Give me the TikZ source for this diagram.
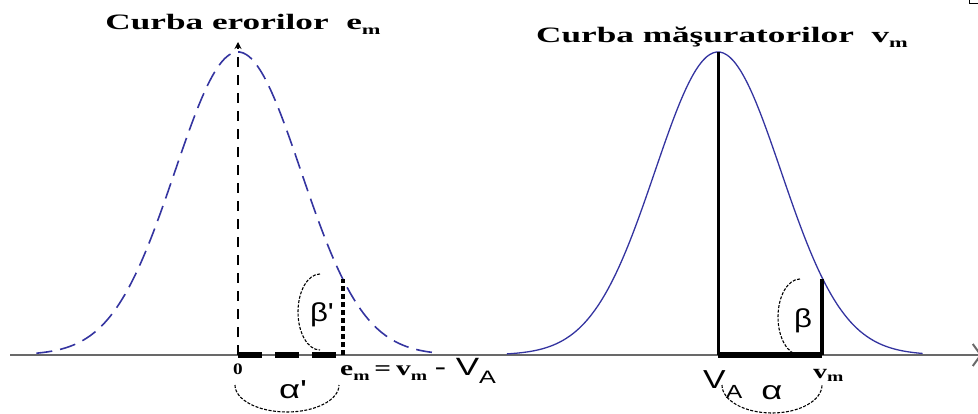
\documentclass[tikz,border=0pt]{standalone}
\usepackage{fontspec}
\setmainfont{Liberation Serif}
\newfontfamily\arial{Liberation Sans}
\usepackage{xcolor}
\definecolor{curveblue}{RGB}{52,52,160}
\definecolor{axisgray}{RGB}{105,105,105}
\usepackage{tikz}
\usetikzlibrary{arrows.meta,calc}
\newcommand{\subm}[2][5pt]{\raisebox{-#1}{\fontsize{14}{14}\selectfont #2}}
\newcommand{\wide}[2][1.35]{\scalebox{#1}[1]{#2}}

\begin{document}
\begin{tikzpicture}[
  x=1pt, y=1pt,
  axis/.style={draw=axisgray, line width=2pt},
  gaussL/.style={draw=curveblue, line width=1.6pt, dash pattern=on 16pt off 8pt},
  gaussR/.style={draw=curveblue, line width=1.3pt},
  arcline/.style={line width=1.1pt, dash pattern=on 3pt off 1.5pt},
  title/.style={anchor=base, inner sep=0pt, font=\bfseries\fontsize{22}{22}\selectfont},
  lbl/.style={inner sep=0pt, anchor=base west},
  greek/.style={inner sep=0pt, font=\arial\fontsize{26}{26}\selectfont}]
  \useasboundingbox (0,0) rectangle (978,-414);
  \coordinate (xstart) at (10,-355);
  \coordinate (xend) at (982,-355);
  \coordinate (oL) at (238,-355);
  \coordinate (topL) at (238,-42);
  \coordinate (emL) at (343,-355);
  \coordinate (emLtop) at (343,-279);
  \coordinate (vA) at (718,-355);
  \coordinate (topR) at (718,-52);
  \coordinate (vm) at (822,-355);
  \coordinate (vmtop) at (822,-279);
  \draw[axis, -{Straight Barb[length=8pt,width=22pt]}] (xstart) -- (xend);
  \draw[gaussL] plot[domain=-3.2:3.2, samples=120, smooth] ({238+63*\x}, {-355+303*exp(-0.5*(\x)*(\x))});
  \draw[gaussR] plot[domain=-3.35:3.25, samples=120, smooth] ({718+63*\x}, {-355+303*exp(-0.5*(\x)*(\x))});
  \draw[line width=2.6pt, dash pattern=on 10pt off 8pt, -{Stealth[length=7pt,width=7pt]}] (oL) -- (topL);
  \draw[line width=6pt, dash pattern=on 24pt off 13pt] (oL) -- (emL);
  \draw[line width=3.6pt, dash pattern=on 5pt off 3pt] (emL) -- (emLtop);
  \draw[line width=3pt] (vA) -- (topR);
  \draw[line width=3.2pt] (vm) -- (vmtop);
  \draw[line width=6pt] (vA) -- (vm);
  \draw[arcline] (320,-274) arc[start angle=90, end angle=270, x radius=22, y radius=38];
  \draw[arcline] (235,-385) arc[start angle=180, end angle=360, x radius=52, y radius=27];
  \draw[arcline] (800,-279) arc[start angle=90, end angle=270, x radius=22, y radius=38];
  \draw[arcline] (722,-385) arc[start angle=180, end angle=360, x radius=50, y radius=28];
  \node[title] (titleL) at (243,-30) {\wide[1.6]{Curba erorilor\ \ e\subm{m}}};
  \node[title] (titleR) at (722,-43) {\wide[1.6]{Curba măşuratorilor\ \ v\subm{m}}};
  \node[inner sep=0pt, font=\bfseries\fontsize{16}{16}\selectfont] (zero) at (238,-369) {\wide[1.2]{0}};
  \node[lbl] (diff) at (340,-375) {\wide[1.4]{\bfseries\fontsize{21}{21}\selectfont e\subm{m}\,=\,v\subm{m}\ {\arial\mdseries\fontsize{25}{25}\selectfont - V\raisebox{-8pt}{\fontsize{18}{18}\selectfont A}}}};
  \node[lbl] (vAlbl) at (703,-388) {\wide[1.3]{\arial\fontsize{26}{26}\selectfont V\raisebox{-10pt}{\fontsize{19}{19}\selectfont A}}};
  \node[lbl] (vmlbl) at (813,-378) {\wide[1.4]{\bfseries\fontsize{20}{20}\selectfont v\subm[3pt]{m}}};
  \node[greek] (betaL) at (322,-315) {\wide[1.2]{β'}};
  \node[greek] (alphaL) at (293,-390) {\wide[1.4]{α'}};
  \node[greek] (betaR) at (803,-321) {\wide[1.2]{β}};
  \node[greek] (alphaR) at (772,-393) {\wide[1.4]{α}};
  \draw[line width=0.8pt] (969.5,0) -- (969.5,-3) -- (978,-3);
\end{tikzpicture}
\end{document}
